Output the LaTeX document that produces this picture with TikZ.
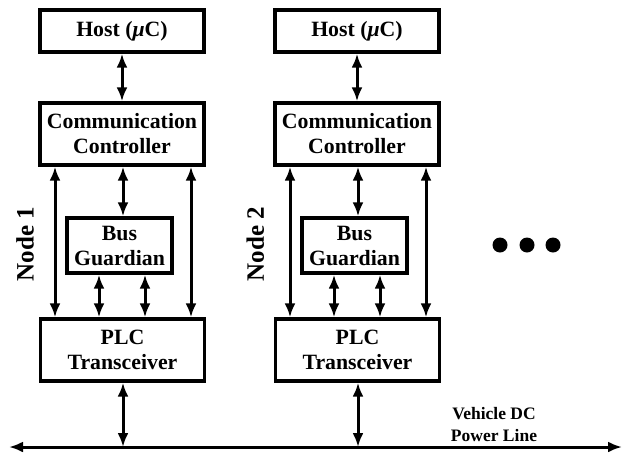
\documentclass[tikz,border=0pt]{standalone}
\usepackage{fontspec}
\setmainfont{Liberation Serif}
\usetikzlibrary{arrows.meta}
\begin{document}
\begin{tikzpicture}[x=1pt,y=-1pt,
  blk/.style={draw,line width=3.4pt,align=center,inner sep=0pt,font=\fontsize{21.8}{25}\selectfont\bfseries},
  dbl/.style={line width=3pt,{Latex[length=14pt,width=11pt]}-{Latex[length=14pt,width=11pt]}},
  lbl/.style={font=\fontsize{25}{28}\selectfont\bfseries,rotate=90}]
\useasboundingbox (0,0) rectangle (623,453);
\coordinate (busL) at (9,447);
\coordinate (busR) at (622,447);
\draw[dbl] (busL) -- (busR);
\foreach \n/\dx in {1/0,2/235}{
  \node[blk,minimum width=164pt,minimum height=42pt] (h\n) at (122+\dx,31) {Host ({\itshape μ}C)};
  \node[blk,minimum width=164pt,minimum height=62pt] (c\n) at (122+\dx,134) {Communication\\Controller};
  \node[blk,minimum width=105pt,minimum height=55pt] (g\n) at (119.5+\dx,245.5) {Bus\\Guardian};
  \node[blk,minimum width=164pt,minimum height=62pt] (p\n) at (122.5+\dx,350) {PLC\\Transceiver};
  \node[lbl] (n\n) at (25+\dx*0.98,244) {Node \n};
  \draw[dbl] (h\n.south) -- (c\n.north);
  \draw[dbl] ([xshift=1pt]c\n.south) -- ([xshift=1pt]c\n.south |- g\n.north);
  \draw[dbl] ([xshift=-67pt]c\n.south) -- ([xshift=-67pt]c\n.south |- p\n.north);
  \draw[dbl] ([xshift=69pt]c\n.south) -- ([xshift=69pt]c\n.south |- p\n.north);
  \draw[dbl] ([xshift=-20.5pt]g\n.south) -- ([xshift=-20.5pt]g\n.south |- p\n.north);
  \draw[dbl] ([xshift=25.5pt]g\n.south) -- ([xshift=25.5pt]g\n.south |- p\n.north);
  \draw[dbl] ([xshift=0.5pt]p\n.south) -- ([xshift=0.5pt]p\n.south |- busL);
}
\foreach \i/\x in {1/500,2/527,3/553}{
  \fill (\x,245) circle (7.5pt) coordinate (d\i);
}
\node[font=\fontsize{17.5}{22}\selectfont\bfseries,align=center] (vdc) at (494,425) {Vehicle DC\\Power Line};
\end{tikzpicture}
\end{document}
